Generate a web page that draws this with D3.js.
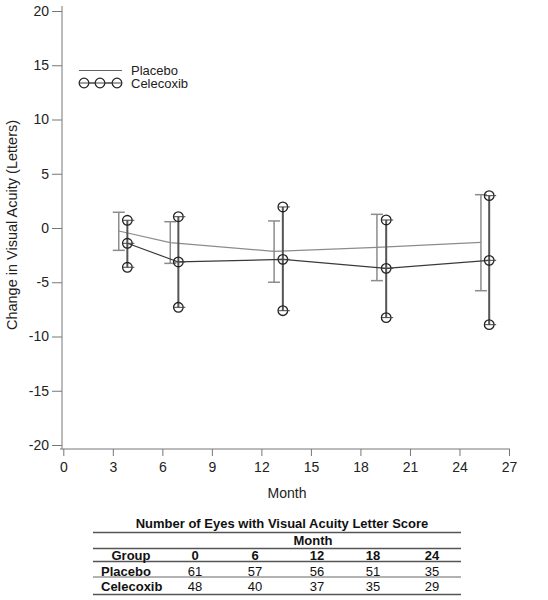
<!DOCTYPE html>
<html><head><meta charset="utf-8">
<script src="https://cdn.jsdelivr.net/npm/d3@7"></script>
<style>body{margin:0;background:#fff}svg{display:block;font-family:"Liberation Sans",Arial,sans-serif}</style>
</head><body><svg id="c" width="548" height="600"></svg>
<script>
const xTicks = [0,3,6,9,12,15,18,21,24,27];
const yTicks = [-20,-15,-10,-5,0,5,10,15,20];
const placeboMonth = [3.36, 6.48, 12.77, 19.0, 25.3];
const placeboMean  = [-0.28, -1.35, -2.15, -1.78, -1.32];
const placeboUpper = [1.45, 0.58, 0.65, 1.26, 3.07];
const placeboLower = [-2.06, -3.26, -5.0, -4.85, -5.78];
const celeMonth = [3.88, 6.97, 13.3, 19.56, 25.8];
const celeMean  = [-1.41, -3.13, -2.89, -3.72, -2.98];
const celeUpper = [0.71, 1.04, 1.94, 0.74, 2.98];
const celeLower = [-3.62, -7.31, -7.62, -8.26, -8.91];
const tableMonths = ["0","6","12","18","24"];
const tableGroups = ["Placebo","Celecoxib"];
const placeboN = [61,57,56,51,35];
const celeN = [48,40,37,35,29];

const svg = d3.select("#c");
const x = d3.scaleLinear().domain([0,27]).range([63.3,509]);
const y = d3.scaleLinear().domain([-20,20]).range([445,11]);
const axisCol = "#777";
const fmt = d => String(d);

// axes
const gy = svg.append("g").attr("transform","translate(62,0)")
  .call(d3.axisLeft(y).tickValues(yTicks).tickFormat(fmt).tickSize(10).tickPadding(3));
gy.select(".domain").attr("d","M0,6V449").attr("stroke",axisCol);
gy.selectAll(".tick line").attr("stroke",axisCol);
gy.selectAll("text").attr("font-size",14).attr("fill","#222").attr("font-family","Liberation Sans, Arial, sans-serif");

const gx = svg.append("g").attr("transform","translate(0,449)")
  .call(d3.axisBottom(x).tickValues(xTicks).tickFormat(fmt).tickSize(7).tickPadding(6));
gx.select(".domain").attr("d","M60,0H510").attr("stroke",axisCol);
gx.selectAll(".tick line").attr("stroke",axisCol);
gx.selectAll("text").attr("font-size",14).attr("fill","#222").attr("font-family","Liberation Sans, Arial, sans-serif");

svg.append("text").attr("x",287).attr("y",498).attr("text-anchor","middle")
  .attr("font-size",14).attr("fill","#222").text("Month");
svg.append("text").attr("transform","translate(17,225) rotate(-90)").attr("text-anchor","middle")
  .attr("font-size",14.5).attr("fill","#222").text("Change in Visual Acuity (Letters)");

// placebo
const pData = placeboMonth.map((m,i)=>({m,mean:placeboMean[i],up:placeboUpper[i],lo:placeboLower[i]}));
const cData = celeMonth.map((m,i)=>({m,mean:celeMean[i],up:celeUpper[i],lo:celeLower[i]}));
const line = d3.line().x(d=>x(d.m)).y(d=>y(d.mean));

const pg = svg.append("g");
pg.append("path").datum(pData).attr("d",line).attr("fill","none").attr("stroke","#8c8c8c").attr("stroke-width",1.2);
pData.forEach(d=>{
  pg.append("line").attr("x1",x(d.m)).attr("x2",x(d.m)).attr("y1",y(d.up)).attr("y2",y(d.lo)).attr("stroke","#8c8c8c").attr("stroke-width",1.5);
  [d.up,d.lo].forEach(v=>pg.append("line").attr("x1",x(d.m)-6).attr("x2",x(d.m)+6).attr("y1",y(v)).attr("y2",y(v)).attr("stroke","#8c8c8c").attr("stroke-width",1.5));
});

// celecoxib
const cg = svg.append("g");
cg.append("path").datum(cData).attr("d",line).attr("fill","none").attr("stroke","#3a3a3a").attr("stroke-width",1.2);
function marker(g,cx,cy){
  g.append("circle").attr("cx",cx).attr("cy",cy).attr("r",4.8).attr("fill","none").attr("stroke","#222").attr("stroke-width",1.3);
  g.append("line").attr("x1",cx-4.5).attr("x2",cx+7).attr("y1",cy).attr("y2",cy).attr("stroke","#444").attr("stroke-width",1);
}
cData.forEach(d=>{
  cg.append("line").attr("x1",x(d.m)).attr("x2",x(d.m)).attr("y1",y(d.up)).attr("y2",y(d.lo)).attr("stroke","#555").attr("stroke-width",2);
  [d.up,d.mean,d.lo].forEach(v=>marker(cg,x(d.m),y(v)));
});

// legend
svg.append("line").attr("x1",79).attr("x2",122).attr("y1",70.5).attr("y2",70.5).attr("stroke","#666").attr("stroke-width",1.2);
svg.append("text").attr("x",131).attr("y",74.5).attr("font-size",13).attr("fill","#222").text("Placebo");
const lg = svg.append("g");
lg.append("line").attr("x1",79).attr("x2",122).attr("y1",83).attr("y2",83).attr("stroke","#444").attr("stroke-width",1.2);
[84,100,117].forEach(cx=>lg.append("circle").attr("cx",cx).attr("cy",83).attr("r",4.8).attr("fill","#fff").attr("stroke","#222").attr("stroke-width",1.3));
lg.append("line").attr("x1",79).attr("x2",122).attr("y1",83).attr("y2",83).attr("stroke","#444").attr("stroke-width",1);
svg.append("text").attr("x",131).attr("y",88).attr("font-size",13).attr("fill","#222").text("Celecoxib");

// table
const t = svg.append("g").attr("font-size",13).attr("fill","#111");
const colX = [195,255,317,373,432];
t.append("text").attr("x",282).attr("y",527.5).attr("text-anchor","middle").attr("font-weight","bold").text("Number of Eyes with Visual Acuity Letter Score");
[532.5,548.5,561.5,577,594.5].forEach((ry,i)=>t.append("line").attr("x1",93).attr("x2",461).attr("y1",ry).attr("y2",ry).attr("stroke",i===3?"#666":"#555").attr("stroke-width",i===3?1:1.5));
t.append("text").attr("x",313).attr("y",545).attr("text-anchor","middle").attr("font-weight","bold").text("Month");
t.append("text").attr("x",131).attr("y",559.5).attr("text-anchor","middle").attr("font-weight","bold").text("Group");
tableMonths.forEach((m,i)=>t.append("text").attr("x",colX[i]).attr("y",559.5).attr("text-anchor","middle").attr("font-weight","bold").text(m));
const rows = [placeboN, celeN];
tableGroups.forEach((g,r)=>{
  const ry = r===0?575.5:591;
  t.append("text").attr("x",101).attr("y",ry).attr("font-weight","bold").text(g);
  rows[r].forEach((v,i)=>t.append("text").attr("x",colX[i]).attr("y",ry).attr("text-anchor","middle").text(v));
});
</script></body></html>
